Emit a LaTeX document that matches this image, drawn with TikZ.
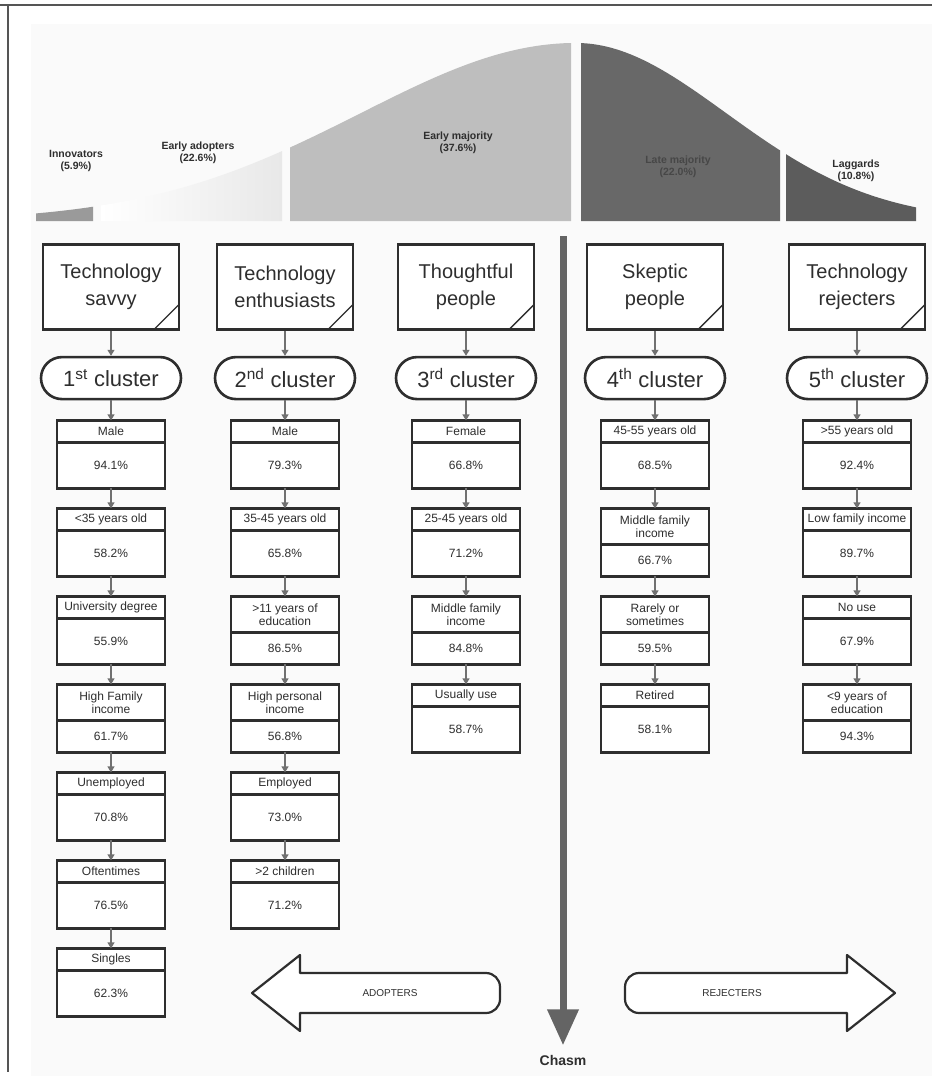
\documentclass[tikz,border=0pt]{standalone}
\usepackage{fontspec}
\setmainfont{Liberation Sans}
\usepackage{tikz}
\usetikzlibrary{arrows.meta,positioning}
\definecolor{ink}{HTML}{2E2E2E}
\definecolor{linkgray}{HTML}{707070}
\definecolor{chasmgray}{HTML}{646464}
\definecolor{paper}{HTML}{FAFAFA}
\definecolor{framegray}{HTML}{555555}
\definecolor{innovcol}{HTML}{9A9A9A}
\definecolor{emajcol}{HTML}{BEBEBE}
\definecolor{lmajcol}{HTML}{686868}
\definecolor{laggcol}{HTML}{5C5C5C}
% diffusion curve, left and right flank
\newcommand\bellL[1]{221-178*exp(-0.5*((#1-576)/215)*((#1-576)/215))}
\newcommand\bellR[1]{221-178*exp(-0.5*((#1-576)/150)*((#1-576)/150))}

\begin{document}
\begin{tikzpicture}[x=1pt, y=-1pt, node distance=20pt, every node/.style={text=ink, font=\fontsize{12}{13}\selectfont}, tag/.style={align=center, font=\bfseries\fontsize{10.5}{11.5}\selectfont}, doc/.style={draw=ink, line width=2.6pt, fill=white, minimum width=136pt, minimum height=85pt, align=center, font=\fontsize{20}{27}\selectfont, path picture={\draw[ink, line width=1.4pt] ([xshift=-25pt]path picture bounding box.south east) -- ([yshift=25pt]path picture bounding box.south east);}}, pill/.style={draw=ink, line width=2.6pt, fill=white, rounded corners=21pt, minimum width=140pt, minimum height=42pt, font=\fontsize{22}{24}\selectfont}, hd/.style={draw=ink, line width=2.5pt, fill=white, minimum width=108pt, minimum height=22pt, inner sep=1pt, outer sep=0pt, align=center}, hdtwo/.style={hd, minimum height=36pt}, val/.style={hd, minimum height=46pt}, valsm/.style={hd, minimum height=32pt}, arr/.style={draw=linkgray, line width=1.2pt, -{Triangle[length=6pt,width=7pt]}}, gap/.style={draw=chasmgray, line width=7pt, -{Triangle[length=36pt,width=30pt]}, shorten >=6pt}, block/.style={draw=ink, line width=2.2pt, fill=white, line join=round}, frame/.style={draw=framegray, line width=2pt}]
\useasboundingbox (0,0) rectangle (932,1076);
\fill[paper] (31,24) rectangle (932,1076);
\draw[frame] (0,5) -- (932,5);
\draw[frame] (8,5) -- (8,1072);

% adopter categories under the curve
\fill[innovcol] (36,221) -- plot[domain=36:93, samples=20] (\x,{\bellL{\x}}) -- (93,221) -- cycle;
\shade[left color=white, right color=gray!18] (101,221) -- plot[domain=101:282, samples=30] (\x,{\bellL{\x}}) -- (282,221) -- cycle;
\fill[emajcol] (290,221) -- plot[domain=290:571, samples=40] (\x,{\bellL{\x}}) -- (571,221) -- cycle;
\fill[lmajcol] (581,221) -- plot[domain=581:780, samples=40] (\x,{\bellR{\x}}) -- (780,221) -- cycle;
\fill[laggcol] (786,221) -- plot[domain=786:916, samples=30] (\x,{\bellR{\x}}) -- (916,221) -- cycle;
\node[tag] (innov) at (76,161) {Innovators\\(5.9\%)};
\node[tag] (early) at (198,153) {Early adopters\\(22.6\%)};
\node[tag] (emaj) at (458,143) {Early majority\\(37.6\%)};
\node[tag, text=black!72] (lmaj) at (678,167) {Late majority\\(22.0\%)};
\node[tag] (lagg) at (856,171) {Laggards\\(10.8\%)};

% chasm
\coordinate (rift) at (563,236);
\node[font=\bfseries\fontsize{14}{16}\selectfont] (chasm) at (563,1060) {Chasm};
\draw[gap] (rift) -- (chasm);

% profiles and clusters
\node[doc] (t1) at (111,287) {Technology\\savvy};
\node[doc] (t2) at (285,287) {Technology\\enthusiasts};
\node[doc] (t3) at (466,287) {Thoughtful\\people};
\node[doc] (t4) at (655,287) {Skeptic\\people};
\node[doc] (t5) at (857,287) {Technology\\rejecters};
\node[pill, below=25pt of t1, alias=c1v0] (k1) {1\textsuperscript{st} cluster};
\node[pill, below=25pt of t2, alias=c2v0] (k2) {2\textsuperscript{nd} cluster};
\node[pill, below=25pt of t3, alias=c3v0] (k3) {3\textsuperscript{rd} cluster};
\node[pill, below=25pt of t4, alias=c4v0] (k4) {4\textsuperscript{th} cluster};
\node[pill, below=25pt of t5, alias=c5v0] (k5) {5\textsuperscript{th} cluster};
\foreach \c in {1,...,5} \draw[arr] (t\c) -- (k\c);

\foreach \hs/\vs/\h/\v [count=\i, evaluate=\i as \j using int(\i-1)] in {hd/val/Male/94.1\%, hd/val/<35 years old/58.2\%, hd/val/University degree/55.9\%, hdtwo/valsm/{High Family\\income}/61.7\%, hd/val/Unemployed/70.8\%, hd/val/Oftentimes/76.5\%, hd/val/Singles/62.3\%}{
  \node[\hs, below=of c1v\j] (c1h\i) {\h};
  \node[\vs, below=0pt of c1h\i] (c1v\i) {\v};
  \draw[arr] (c1v\j) -- (c1h\i);
}
\foreach \hs/\vs/\h/\v [count=\i, evaluate=\i as \j using int(\i-1)] in {hd/val/Male/79.3\%, hd/val/35-45 years old/65.8\%, hdtwo/valsm/{>11 years of\\education}/86.5\%, hdtwo/valsm/{High personal\\income}/56.8\%, hd/val/Employed/73.0\%, hd/val/>2 children/71.2\%}{
  \node[\hs, below=of c2v\j] (c2h\i) {\h};
  \node[\vs, below=0pt of c2h\i] (c2v\i) {\v};
  \draw[arr] (c2v\j) -- (c2h\i);
}
\foreach \hs/\vs/\h/\v [count=\i, evaluate=\i as \j using int(\i-1)] in {hd/val/Female/66.8\%, hd/val/25-45 years old/71.2\%, hdtwo/valsm/{Middle family\\income}/84.8\%, hd/val/Usually use/58.7\%}{
  \node[\hs, below=of c3v\j] (c3h\i) {\h};
  \node[\vs, below=0pt of c3h\i] (c3v\i) {\v};
  \draw[arr] (c3v\j) -- (c3h\i);
}
\foreach \hs/\vs/\h/\v [count=\i, evaluate=\i as \j using int(\i-1)] in {hd/val/45-55 years old/68.5\%, hdtwo/valsm/{Middle family\\income}/66.7\%, hdtwo/valsm/{Rarely or\\sometimes}/59.5\%, hd/val/Retired/58.1\%}{
  \node[\hs, below=of c4v\j] (c4h\i) {\h};
  \node[\vs, below=0pt of c4h\i] (c4v\i) {\v};
  \draw[arr] (c4v\j) -- (c4h\i);
}
\foreach \hs/\vs/\h/\v [count=\i, evaluate=\i as \j using int(\i-1)] in {hd/val/>55 years old/92.4\%, hd/val/Low family income/89.7\%, hd/val/No use/67.9\%, hdtwo/valsm/{<9 years of\\education}/94.3\%}{
  \node[\hs, below=of c5v\j] (c5h\i) {\h};
  \node[\vs, below=0pt of c5h\i] (c5v\i) {\v};
  \draw[arr] (c5v\j) -- (c5h\i);
}

% adopters / rejecters
\draw[block] (252,993) -- (300,955) -- (300,973) -- (486,973) arc[start angle=90, end angle=0, radius=14pt] -- (500,999) arc[start angle=0, end angle=-90, radius=14pt] -- (300,1013) -- (300,1031) -- cycle;
\draw[block] (895,993) -- (847,955) -- (847,973) -- (639,973) arc[start angle=90, end angle=180, radius=14pt] -- (625,999) arc[start angle=180, end angle=270, radius=14pt] -- (847,1013) -- (847,1031) -- cycle;
\node[font=\fontsize{10}{12}\selectfont] (adopt) at (390,993) {ADOPTERS};
\node[font=\fontsize{10}{12}\selectfont] (reject) at (732,993) {REJECTERS};
\end{tikzpicture}
\end{document}
